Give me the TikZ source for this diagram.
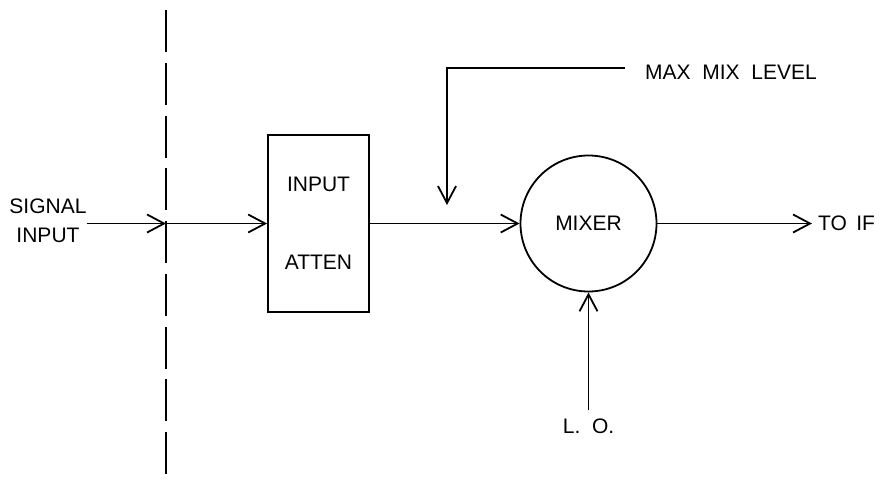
\documentclass[tikz,border=0pt]{standalone}
\usepackage{fontspec}
\setmainfont{Liberation Sans}
\usetikzlibrary{arrows.meta,positioning,calc}
\tikzset{
  blk/.style={draw,line width=1.8pt,minimum width=101pt,minimum height=177pt,
              align=center,inner sep=0pt,font=\fontsize{21}{78}\selectfont},
  mix/.style={draw,circle,line width=1.8pt,minimum size=136pt,inner sep=0pt},
  lbl/.style={inner sep=0pt,align=center},
  sigflow/.style={-{Straight Barb[length=17pt,width=18pt]},line width=1.8pt},
  cutline/.style={line width=2.6pt,dash pattern=on 42pt off 10.75pt},
}

\begin{document}
\begin{tikzpicture}[x=1pt,y=-1pt,font=\fontsize{21}{25}\selectfont]
  \useasboundingbox (0,0) rectangle (885,483);
  \node[lbl,font=\fontsize{21}{29}\selectfont] (sig) at (48,221) {SIGNAL\\INPUT};
  \coordinate (cuttop) at (166,10);
  \coordinate (cutbot) at (166,475);
  \coordinate (cut) at (166,223.5);
  \node[blk] (atten) at (318.5,223.5) {INPUT\\ATTEN};
  \node[mix] (mixer) at (588.5,223.5) {MIXER};
  \node[lbl,anchor=west] (mml) at (645,72) {MAX\ \ MIX\ \ LEVEL};
  \coordinate (mmltip) at (447,205);
  \node[lbl,anchor=west] (toif) at (818,223.5) {TO\ \,IF};
  \node[lbl] (lo) at (588.5,426) {L.\ \ O.};

  \draw[cutline] (cuttop) -- (cutbot);
  \draw[sigflow] (sig.east |- cut) -- (cut);
  \draw[sigflow] (cut) -- (atten.west);
  \draw[sigflow] (atten.east) -- (mixer.west);
  \draw[sigflow] (mixer.east) -- ([xshift=-6pt]toif.west);
  \draw[sigflow] ([yshift=8pt]lo.north) -- (mixer.south);
  % feed from the level label drops onto the attenuator output line
  \draw[sigflow] ([xshift=-20pt,yshift=4pt]mml.west) -| (mmltip);
\end{tikzpicture}
\end{document}
